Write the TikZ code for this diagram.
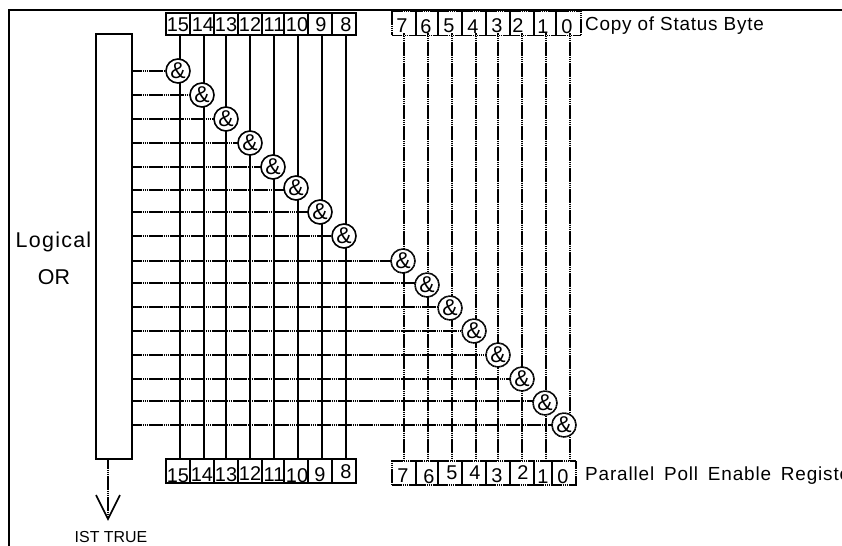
\documentclass[tikz,border=0pt]{standalone}
\usepackage{fontspec}
\setmainfont{Liberation Sans}
\newfontfamily\spaced[LetterSpace=4]{Liberation Sans}
\newfontfamily\spacedb[LetterSpace=6]{Liberation Sans}
\newfontfamily\spacedc[LetterSpace=4.5,WordSpace=1.6]{Liberation Sans}
\pgfdeclarelayer{under}
\pgfsetlayers{under,main}
\tikzset{
  lw/.style={line width=1.6bp,line cap=butt,black},
  fine/.style={lw,dash pattern=on 1.7bp off 0.4bp},
  regsolid/.style={lw,draw,rectangle,inner sep=0pt,outer sep=0pt,minimum height=22bp},
  regfine/.style={regsolid,dash pattern=on 1.7bp off 0.4bp,minimum height=24bp},
  digit/.style={inner sep=0pt,font=\fontsize{20}{20}\selectfont},
  ampsolid/.style={lw,draw,circle,fill=white,inner sep=0pt,outer sep=0pt,minimum size=24bp,font=\fontsize{23}{23}\selectfont},
  ampfine/.style={ampsolid,dash pattern=on 1.7bp off 0.4bp},
  caption/.style={inner sep=0pt,anchor=base west,font=\spaced\fontsize{19}{20}\selectfont},
}
\begin{document}
\begin{tikzpicture}[x=1bp,y=-1bp]
\useasboundingbox (0,0) rectangle (842,546);
\begin{pgfonlayer}{under}
\fill[white] (0,0) rectangle (842,546);
\end{pgfonlayer}
% frame
\coordinate (fa) at (9,546);
\coordinate (fb) at (9,10);
\coordinate (fc) at (842,10);
\draw[lw,line width=1.9bp] (fa) -- (fb) -- (fc);
% OR block
\node[lw,draw,rectangle,inner sep=0,outer sep=0,minimum width=36bp,minimum height=425bp] (or) at (114,246.5) {};
\node[inner sep=0pt,font=\spacedb\fontsize{21.5}{22}\selectfont] (logical) at (53.5,242) {Logical};
\node[inner sep=0pt,font=\fontsize{21.5}{22}\selectfont] (ortext) at (54,277) {OR};
% registers, top left
\foreach \n/\a/\b/\tx/\ty in {15/166/190/178/25,14/190/214/203/25,13/214/238/226/25,12/238/262/250/25,11/262/284/274/25,10/284/308/297/25,9/308/332/321/25,8/332/356/346/25}{
  \node[regsolid,minimum width={(\b-\a)*1bp}] (t\n) at ({(\a+\b)/2},24) {};
  \node[digit] (tl\n) at (\tx,\ty) {\n};
}
% registers, bottom left
\foreach \n/\a/\b/\tx/\ty in {15/166/190/178/476,14/190/214/202/475,13/214/238/226/475,12/238/262/250/474,11/262/284/274/475,10/284/308/297/476,9/308/332/320/475,8/332/356/346/472}{
  \node[regsolid,minimum width={(\b-\a)*1bp},minimum height=24bp] (b\n) at ({(\a+\b)/2},471) {};
  \node[digit] (bl\n) at (\tx,\ty) {\n};
}
% registers, top right
\foreach \n/\a/\b/\tx/\ty in {7/392/416/402/26,6/416/438/426/27,5/438/462/449/26,4/462/486/473/27,3/486/510/497/26,2/510/534/518/26,1/534/556/543/27,0/556/581/567/27}{
  \node[regfine,minimum width={(\b-\a)*1bp}] (t\n) at ({(\a+\b)/2},23.5) {};
  \node[digit] (tl\n) at (\tx,\ty) {\n};
}
% registers, bottom right
\foreach \n/\a/\b/\tx/\ty in {7/392/416/403/476,6/416/438/429/477,5/438/462/452/473,4/462/486/475/473,3/486/510/497/476,2/510/534/523/473,1/534/552/543/477,0/552/576/563/477}{
  \node[regfine,minimum width={(\b-\a)*1bp}] (b\n) at ({(\a+\b)/2},473) {};
  \node[digit] (bl\n) at (\tx,\ty) {\n};
}
% AND gates with their connectors
\foreach \n/\x/\y/\cx/\cy in {15/180/71/178/71,14/204/95/202/95,13/226/119/226/119,12/250/143/250/143,11/274/167/273/167,10/298/190/296/188,9/322/212/320/212,8/346/236/344/236}{
  \node[ampsolid] (g\n) at (\cx,\cy) {\&};
  \coordinate (v\n) at (\x,0);
  \begin{pgfonlayer}{under}
    \draw[lw] (v\n |- t\n.south) -- (v\n |- b\n.north);
    \draw[fine] (or.east |- 0,\y) -- (g\n.center |- 0,\y);
  \end{pgfonlayer}
}
\foreach \n/\x/\y/\cx/\cy in {7/404/261/403/261,6/428/283/427/285,5/452/307/450/308,4/476/331/474/331,3/498/355/498/355,2/522/379/522/379,1/546/401/545/403,0/570/425/564/425}{
  \node[ampfine] (g\n) at (\cx,\cy) {\&};
  \coordinate (v\n) at (\x,0);
  \begin{pgfonlayer}{under}
    \draw[fine] ([yshift=2bp]v\n |- t\n.south) -- (v\n |- b\n.north);
    \draw[fine] (or.east |- 0,\y) -- (g\n.center |- 0,\y);
  \end{pgfonlayer}
}
% captions
\node[caption] (cap1) at (585,31) {Copy of Status Byte};
\node[caption,font=\spacedc\fontsize{19}{20}\selectfont] (cap2) at (585,480) {Parallel Poll Enable Register};
% IST output
\coordinate (tip) at (108,519);
\coordinate (vl) at (96,495);
\coordinate (vr) at (120,495);
\draw[fine] (or.south -| tip) -- (tip);
\draw[lw] (vl) -- (tip) -- (vr);
\node[inner sep=0pt,font=\fontsize{16}{16}\selectfont] (ist) at (111,537.5) {IST TRUE};
\end{tikzpicture}
\end{document}
